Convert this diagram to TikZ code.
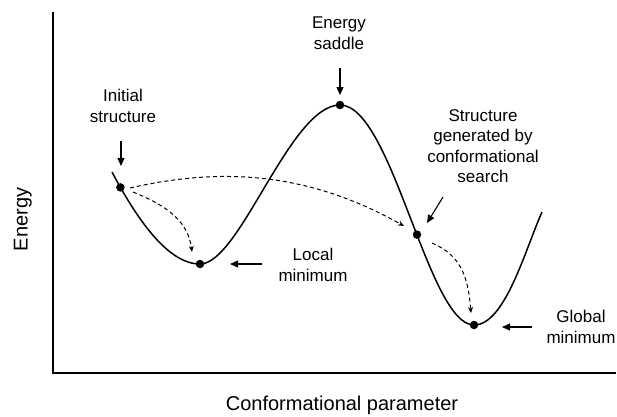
\documentclass[tikz,border=0pt]{standalone}
\usepackage{fontspec}
\setmainfont{Liberation Sans}
\usetikzlibrary{arrows.meta}
\begin{document}
\begin{tikzpicture}[x=1pt,y=-1pt,
  lbl/.style={align=center,inner sep=0pt,font=\fontsize{17}{20.5}\selectfont},
  axlbl/.style={inner sep=0pt,font=\fontsize{20}{24}\selectfont},
  dot/.style={circle,fill=black,inner sep=0pt,minimum size=8.5pt},
  curve/.style={line width=1.5pt},
  axis/.style={line width=1.5pt},
  pointer/.style={line width=1.1pt,-{Triangle[length=8pt,width=7pt]}},
  search/.style={line width=1pt,dash pattern=on 4pt off 3pt,-{Stealth[length=6pt,width=5pt]}}]
\useasboundingbox (0,0) rectangle (617,416);
% axes
\coordinate (ytop) at (53,12);
\coordinate (orig) at (53,373);
\coordinate (xend) at (616,373);
\draw[axis] (ytop) -- (orig) -- (xend);
\node[axlbl,rotate=90,anchor=base] (ylab) at (27.5,219.5) {Energy};
\node[axlbl,anchor=base] (xlab) at (342,410) {Conformational parameter};
% energy curve
\coordinate (c0) at (112,172);
\coordinate (c5) at (542,212);
\draw[curve] (c0) .. controls (140,225) and (170,264) .. (200,264)
  .. controls (240,264) and (290,105) .. (340,105)
  .. controls (392,105) and (428,325) .. (474,325)
  .. controls (505,325) and (525,250) .. (c5);
% points
\node[dot] (init) at (120.4,187.4) {};
\node[dot] (locmin) at (200,264) {};
\node[dot] (saddle) at (340,105) {};
\node[dot] (gen) at (417,234.6) {};
\node[dot] (glomin) at (474,325) {};
% labels
\node[lbl] (tinit) at (123,106) {Initial\\structure};
\node[lbl] (tsad) at (339,33) {Energy\\saddle};
\node[lbl] (tgen) at (483,146) {Structure\\generated by\\conformational\\search};
\node[lbl] (tloc) at (313,265) {Local\\minimum};
\node[lbl] (tglo) at (581,327) {Global\\minimum};
% pointer arrows
\coordinate (a1s) at (121,141); \coordinate (a1e) at (121,166);
\coordinate (a2s) at (340,68);  \coordinate (a2e) at (340,95);
\coordinate (a3s) at (443,197); \coordinate (a3e) at (427,223);
\coordinate (a4s) at (262,264); \coordinate (a4e) at (230,264);
\coordinate (a5s) at (532,327); \coordinate (a5e) at (502,327);
\draw[pointer] (a1s) -- (a1e);
\draw[pointer] (a2s) -- (a2e);
\draw[pointer] (a3s) -- (a3e);
\draw[pointer] (a4s) -- (a4e);
\draw[pointer] (a5s) -- (a5e);
% search paths
\coordinate (d1s) at (130,188); \coordinate (d1e) at (404,226);
\coordinate (d2s) at (133,192); \coordinate (d2e) at (192,252);
\coordinate (d3s) at (432,243); \coordinate (d3e) at (471,313);
\draw[search] (d1s) .. controls (230,165) and (315,176) .. (d1e);
\draw[search] (d2s) .. controls (165,205) and (188,220) .. (d2e);
\draw[search] (d3s) .. controls (460,255) and (468,275) .. (d3e);
\end{tikzpicture}
\end{document}
